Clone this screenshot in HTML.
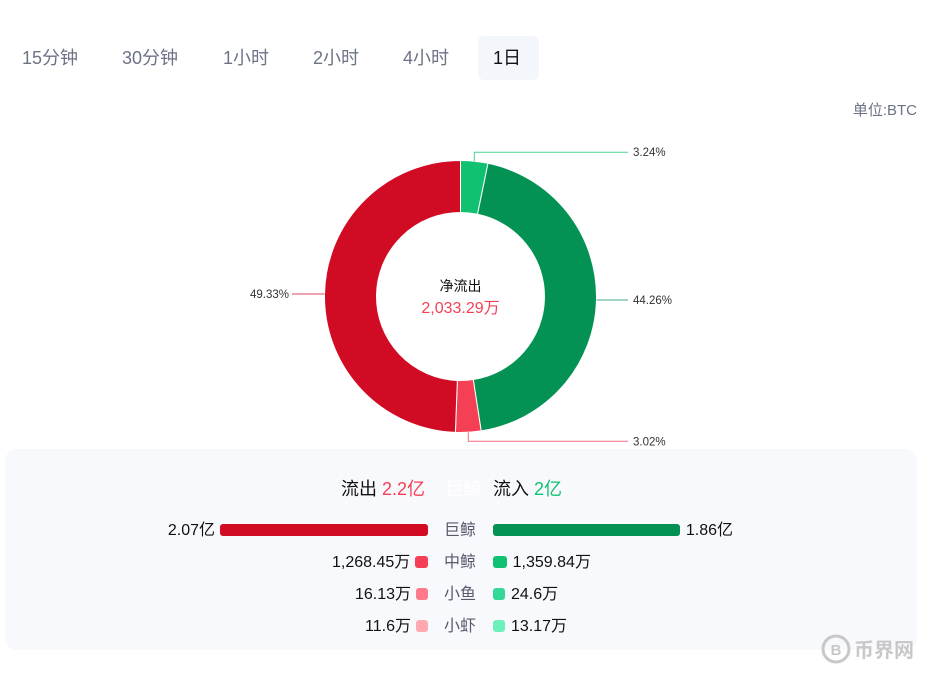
<!DOCTYPE html>
<html><head><meta charset="utf-8">
<style>
*{margin:0;padding:0;box-sizing:border-box}
body{width:935px;height:677px;background:#fff;font-family:"Liberation Sans","Noto Sans CJK SC",sans-serif;position:relative;overflow:hidden}
.tab{position:absolute;top:36px;height:44px;line-height:44px;font-size:18px;color:#6b7385;padding:0 16px}
.tab.active{background:#f3f6fb;color:#111;border-radius:6px}
.abs{position:absolute}
.panel{position:absolute;left:5px;top:449px;width:912px;height:201px;background:#f8f9fd;border-radius:12px}
.row{position:absolute;font-size:16px;color:#111;line-height:20px}
.cat{position:absolute;left:444px;width:36px;font-size:16px;color:#555b6b}
</style></head><body>
<div class="tab" style="left:6px">15分钟</div>
<div class="tab" style="left:106px">30分钟</div>
<div class="tab" style="left:207px">1小时</div>
<div class="tab" style="left:297px">2小时</div>
<div class="tab" style="left:387px">4小时</div>
<div class="tab active" style="left:478px;width:61px;padding:0 15px">1日</div>
<div class="abs" style="right:18px;top:99px;font-size:15px;color:#6b7385">单位:BTC</div>
<svg id="pie" class="abs" style="left:0;top:0" width="935" height="450"></svg>
<div class="panel"></div>
<div class="abs" style="left:341px;top:475px;font-size:18px;color:#111">流出 <span style="color:#f43f55">2.2亿</span></div>
<div class="abs" style="left:445px;top:475px;font-size:18px;color:#fff">巨鲸</div>
<div class="abs" style="left:493px;top:475px;font-size:18px;color:#111">流入 <span style="color:#10c172">2亿</span></div>
<div id="rows"></div>
<svg class="abs" style="left:820px;top:632px" width="110" height="36">
<circle cx="16" cy="17" r="13" fill="none" stroke="#c8c8c8" stroke-width="3"/>
<text x="16" y="23" font-size="15" font-weight="bold" text-anchor="middle" fill="#c8c8c8" font-family="Liberation Sans">B</text>
<text x="34" y="25" font-size="20" font-weight="bold" fill="#c8c8c8" font-family="Noto Sans CJK SC,sans-serif">币界网</text>
</svg>
<script>
const sliceLabels=["3.24%","44.26%","3.02%","49.33%"];
const sliceValues=[3.24,44.26,3.02,49.33];
const sliceColors=["#10c172","#039254","#f43f55","#d10b24"];
const categories=["巨鲸","中鲸","小鱼","小虾"];
const outflow=[20700,1268.45,16.13,11.6];
const inflow=[18600,1359.84,24.6,13.17];
const outflowText=["2.07亿","1,268.45万","16.13万","11.6万"];
const inflowText=["1.86亿","1,359.84万","24.6万","13.17万"];
const outColors=["#d10b24","#f43f55","#ff7a8a","#ffa8b2"];
const inColors=["#039254","#10c172","#34d99a","#6ef0bb"];

const NS="http://www.w3.org/2000/svg";
const svg=document.getElementById('pie');
const cx=460.5,cy=296.5,R=136,r=84;
const total=sliceValues.reduce((a,b)=>a+b,0);
function pt(a,rad){return [cx+rad*Math.sin(a),cy-rad*Math.cos(a)];}
let acc=0;
sliceValues.forEach((v,i)=>{
  const a0=acc/total*2*Math.PI;acc+=v;const a1=acc/total*2*Math.PI;
  const large=(a1-a0)>Math.PI?1:0;
  const [x0,y0]=pt(a0,R),[x1,y1]=pt(a1,R),[x2,y2]=pt(a1,r),[x3,y3]=pt(a0,r);
  const p=document.createElementNS(NS,'path');
  p.setAttribute('d',`M${x0} ${y0}A${R} ${R} 0 ${large} 1 ${x1} ${y1}L${x2} ${y2}A${r} ${r} 0 ${large} 0 ${x3} ${y3}Z`);
  p.setAttribute('fill',sliceColors[i]);p.setAttribute('stroke','#fff');p.setAttribute('stroke-width','1');
  
  
  svg.appendChild(p);
  const am=(a0+a1)/2;const [mx,my]=pt(am,R);
  const right=Math.sin(am)>=0;
  const vertical=Math.abs(Math.cos(am))>0.9;
  let d,ty;
  if(vertical){ty=my+(Math.cos(am)>0?-9:9);d=`M${mx} ${my}L${mx} ${ty}L${right?628:292} ${ty}`;}
  else{ty=my;d=`M${mx} ${my}L${right?628:292} ${ty}`;}
  const l=document.createElementNS(NS,'path');
  l.setAttribute('d',d);l.setAttribute('fill','none');l.setAttribute('stroke',sliceColors[i]);l.setAttribute('opacity','0.75');
  
  
  svg.appendChild(l);
  const t=document.createElementNS(NS,'text');
  t.setAttribute('x',right?633:289);t.setAttribute('y',ty+4);
  t.setAttribute('text-anchor',right?'start':'end');t.setAttribute('font-size','11.5');t.setAttribute('fill','#333');
  t.textContent=sliceLabels[i];
  
  
  svg.appendChild(t);
});
const c1=document.createElementNS(NS,'text');
c1.setAttribute('x',cx);c1.setAttribute('y',291);c1.setAttribute('text-anchor','middle');c1.setAttribute('font-size','14');c1.setAttribute('fill','#111');
c1.textContent='净流出';


svg.appendChild(c1);
const c2=document.createElementNS(NS,'text');
c2.setAttribute('x',cx);c2.setAttribute('y',313);c2.setAttribute('text-anchor','middle');c2.setAttribute('font-size','16');c2.setAttribute('fill','#f43f55');
c2.textContent='2,033.29万';


svg.appendChild(c2);

const rows=document.getElementById('rows');
const scale=208/20700;
categories.forEach((c,i)=>{
  const y=524+i*32;
  const wo=Math.max(12,outflow[i]*scale), wi=Math.max(12,inflow[i]*scale);
  const bo=document.createElement('div');
  bo.className='abs';bo.style.cssText=`left:${428-wo}px;top:${y}px;width:${wo}px;height:12px;border-radius:3px;background:${outColors[i]}`;
  
  
  rows.appendChild(bo);
  const bi=document.createElement('div');
  bi.className='abs';bi.style.cssText=`left:493px;top:${y}px;width:${wi}px;height:12px;border-radius:3px;background:${inColors[i]}`;
  
  
  rows.appendChild(bi);
  const to=document.createElement('div');
  to.className='row';to.style.cssText=`right:${935-(428-wo-5)}px;top:${y-3}px`;
  to.textContent=outflowText[i];
  
  
  rows.appendChild(to);
  const ti=document.createElement('div');
  ti.className='row';ti.style.cssText=`left:${493+wi+6}px;top:${y-3}px`;
  ti.textContent=inflowText[i];
  
  
  rows.appendChild(ti);
  const ct=document.createElement('div');
  ct.className='cat';ct.style.top=(y-3)+'px';ct.style.lineHeight='20px';
  ct.textContent=c;
  
  
  rows.appendChild(ct);
});
</script>
</body></html>
